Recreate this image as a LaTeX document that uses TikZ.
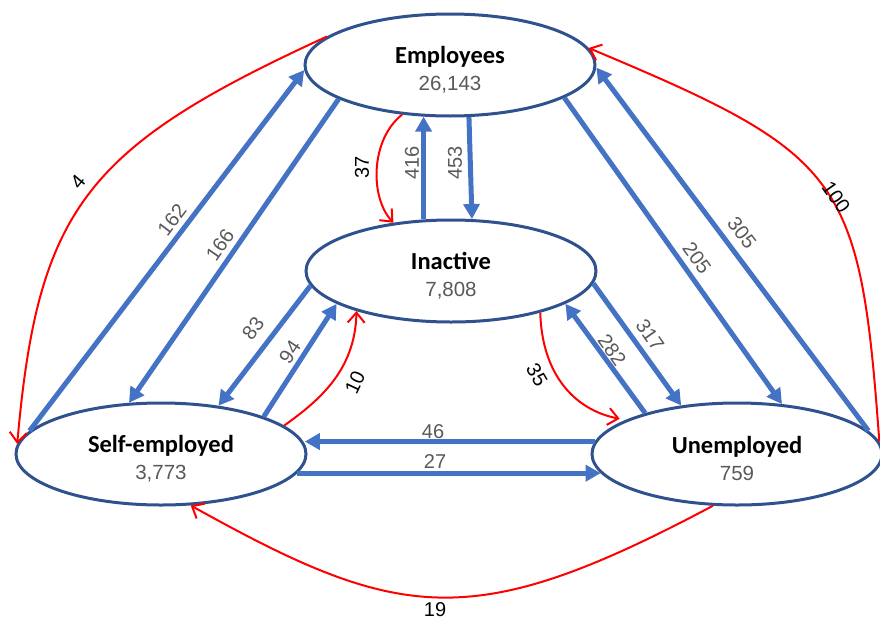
\documentclass[tikz,border=0pt]{standalone}
\usepackage{fontspec}
\setmainfont{Liberation Sans}
\newfontfamily\titlefont{Carlito}
\usetikzlibrary{shapes.geometric,arrows.meta}
\definecolor{boxblue}{RGB}{47,82,143}
\definecolor{arrowblue}{RGB}{68,114,196}
\definecolor{labgray}{RGB}{89,89,89}
\definecolor{flowred}{RGB}{255,0,0}
\newcommand\ttl[1]{{\titlefont\bfseries\fontsize{24.5}{27}\selectfont\rule{0pt}{26pt}#1}}
\newcommand\cnt[1]{{\color{labgray}#1}}
\begin{document}
\begin{tikzpicture}[x=1pt,y=-1pt,
  state/.style={ellipse, draw=boxblue, line width=3pt, fill=white,
    minimum width=290pt, minimum height=102pt, inner sep=0pt, align=center,
    font=\fontsize{20.5}{27}\selectfont},
  blueflow/.style={draw=arrowblue, line width=5pt, -{Triangle[length=15pt,width=16pt]}},
  redflow/.style={draw=flowred, line width=2pt, -{Straight Barb[length=10pt,width=17pt]}},
  bluelab/.style={font=\fontsize{20}{24}\selectfont, text=labgray, inner sep=0pt},
  redlab/.style={font=\fontsize{20}{24}\selectfont, text=black, inner sep=0pt},
]
\useasboundingbox (0,0) rectangle (880,621);

\node[state] (emp)   at (450,65)  {\ttl{Employees}\\\cnt{26,143}};
\node[state] (ina)   at (451,271) {\ttl{Inactive}\\\cnt{7,808}};
\node[state] (self)  at (161,454) {\ttl{Self-employed}\\\cnt{3,773}};
\node[state] (unemp) at (737,454) {\ttl{Unemployed}\\\cnt{759}};

% blue flows
\draw[blueflow] (self.170) -- (emp.182);
\draw[blueflow] (emp.197) -- (self.122);
\draw[blueflow] (ina.118) -- (ina.118 |- emp.242);
\draw[blueflow] (emp.290) -- (ina.68);
\draw[blueflow] (ina.186) -- (self.40);
\draw[blueflow] (self.20) -- (ina.196);
\draw[blueflow] (unemp.175) -- (self.4 |- unemp.175);
\draw[blueflow] (self.352) -- (unemp.188 |- self.352);
\draw[blueflow] (unemp.156) -- (ina.344);
\draw[blueflow] (ina.355) -- (unemp.139);
\draw[blueflow] (emp.344) -- (unemp.48);
\draw[blueflow] (unemp.10) -- (emp.359);

% red flows
\draw[redflow] (emp.226) .. controls (370,140) and (370,198) .. (ina.140);
\draw[redflow] (self.13) .. controls (320,400) and (355,370) .. (ina.203);
\draw[redflow, shorten >=6pt] (ina.335) .. controls (542,375) and (575,410) .. (unemp.163);
\draw[redflow] (emp.167) .. controls (86,147) and (38,208) .. (self.176);
\draw[redflow] (unemp.5) .. controls (860,176) and (844,155) .. (emp.7);
\draw[redflow] (unemp.245) .. controls (472,634) and (400,622) .. (self.300);

% labels
\node[bluelab, rotate=53] (l162) at (172,220) {162};
\node[bluelab, rotate=55] (l166) at (220,245) {166};
\node[bluelab, rotate=90] (l416) at (412,163) {416};
\node[bluelab, rotate=90] (l453) at (455,163) {453};
\node[redlab, rotate=90]  (l37)  at (362,167) {37};
\node[bluelab, rotate=53] (l83)  at (253,328) {83};
\node[bluelab, rotate=56] (l94)  at (290,352) {94};
\node[redlab, rotate=65]  (l10)  at (355,383) {10};
\node[bluelab] (l46) at (433,432) {46};
\node[bluelab] (l27) at (435,462) {27};
\node[redlab, rotate=-60] (l35)  at (537,375) {35};
\node[bluelab, rotate=-55] (l282) at (612,350) {282};
\node[bluelab, rotate=-55] (l317) at (650,335) {317};
\node[bluelab, rotate=-54] (l205) at (697,258) {205};
\node[bluelab, rotate=-53] (l305) at (742,233) {305};
\node[redlab, rotate=50]  (l4)   at (78,182)  {4};
\node[redlab, rotate=-55] (l100) at (836,197) {100};
\node[redlab] (l19) at (435,610) {19};
\end{tikzpicture}
\end{document}
